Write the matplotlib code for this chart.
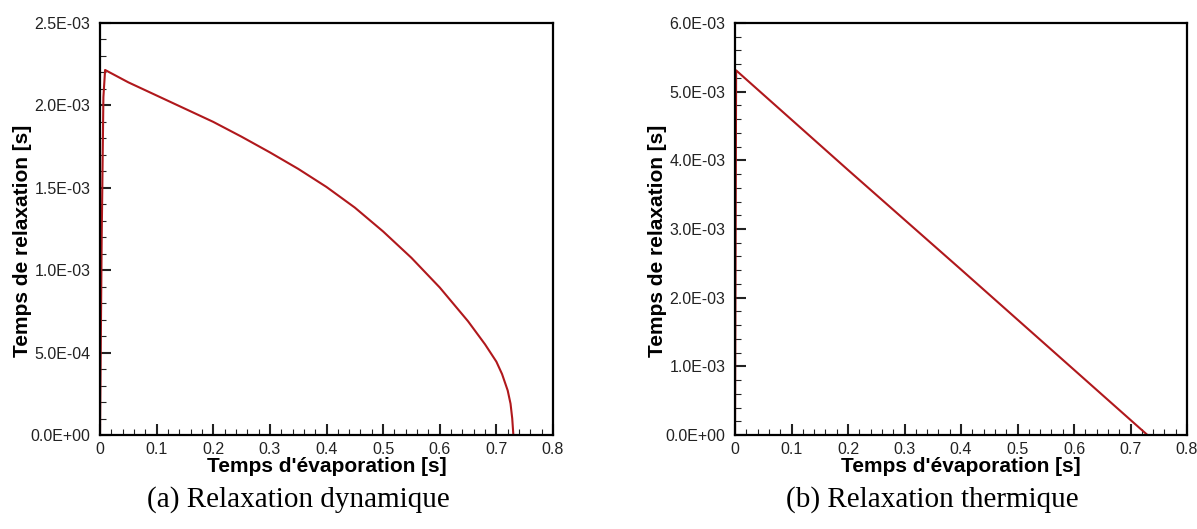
import numpy as np
import matplotlib
matplotlib.use("Agg")
from matplotlib import pyplot as plt
from matplotlib.ticker import MultipleLocator, FuncFormatter

# (a) relaxation dynamique
temps_a = [0.0, 0.003, 0.006, 0.009, 0.05, 0.1, 0.15, 0.2, 0.25, 0.3, 0.35, 0.4,
           0.45, 0.5, 0.55, 0.6, 0.65, 0.68, 0.7, 0.71, 0.72, 0.725, 0.728, 0.73]
relax_a = [0.0, 1.2e-3, 2.05e-3, 2.215e-3, 2.14e-3, 2.06e-3, 1.98e-3, 1.90e-3, 1.81e-3,
           1.715e-3, 1.615e-3, 1.505e-3, 1.38e-3, 1.235e-3, 1.075e-3, 0.895e-3, 0.69e-3,
           0.55e-3, 0.445e-3, 0.37e-3, 0.27e-3, 0.19e-3, 0.1e-3, 0.0]

# (b) relaxation thermique
temps_b = [0.0, 0.002, 0.2, 0.4, 0.6, 0.73]
relax_b = [0.0, 5.31e-3, 3.86e-3, 2.41e-3, 0.95e-3, 0.0]

plt.rcParams['font.family'] = ['Liberation Sans', 'DejaVu Sans']

fig = plt.figure(figsize=(11.97, 5.29), dpi=100)
ax1 = fig.add_axes([100/1197, 1-435/529, 453/1197, 412/529])
ax2 = fig.add_axes([735/1197, 1-435/529, 452/1197, 412/529])

def yfmt(v, pos):
    return f"{v:.1E}"

def xfmt(v, pos):
    return f"{v:g}"

def style(ax, ymax, ymaj, ymin):
    ax.set_xlim(0, 0.8)
    ax.set_ylim(0, ymax)
    ax.xaxis.set_major_locator(MultipleLocator(0.1))
    ax.xaxis.set_minor_locator(MultipleLocator(0.02))
    ax.yaxis.set_major_locator(MultipleLocator(ymaj))
    ax.yaxis.set_minor_locator(MultipleLocator(ymin))
    ax.yaxis.set_major_formatter(FuncFormatter(yfmt))
    ax.xaxis.set_major_formatter(FuncFormatter(xfmt))
    ax.tick_params(which='both', direction='in', top=False, right=False, labelsize=11.5, colors='#222222')
    ax.tick_params(which='major', length=8, width=1.5)
    ax.tick_params(which='minor', length=4, width=0.8)
    ax.tick_params(axis='x', which='major', pad=5)
    ax.tick_params(axis='y', which='major', pad=7)
    for s in ax.spines.values():
        s.set_linewidth(1.6)
    ax.set_xlabel("Temps d'évaporation [s]", fontsize=15, fontweight='bold', labelpad=0)
    ax.set_ylabel("Temps de relaxation [s]", fontsize=15, fontweight='bold')
    ax.yaxis.set_label_coords(-0.15, 0.47)

ax1.plot(temps_a, relax_a, color='#b0181c', lw=1.5)
style(ax1, 2.5e-3, 5e-4, 1e-4)
ax2.plot(temps_b, relax_b, color='#b0181c', lw=1.5)
style(ax2, 6e-3, 1e-3, 2e-4)

fig.text(298/1197, 1-500/529, "(a) Relaxation dynamique", family='Liberation Serif',
         fontsize=21, ha='center', va='center')
fig.text(932/1197, 1-500/529, "(b) Relaxation thermique", family='Liberation Serif',
         fontsize=21, ha='center', va='center')

fig.savefig("out.png", dpi=100)
